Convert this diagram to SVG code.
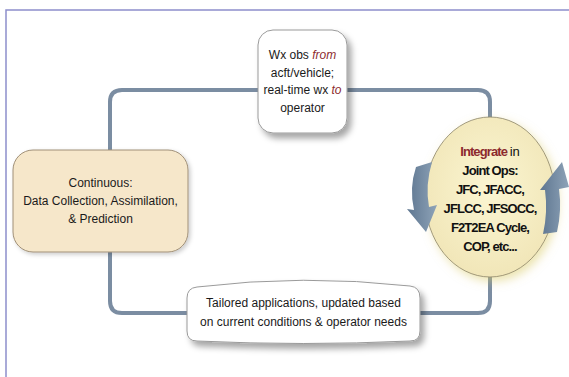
<svg xmlns="http://www.w3.org/2000/svg" width="569" height="377" viewBox="0 0 569 377">
<defs>
<style>
.t{font-family:"Liberation Sans",Arial,sans-serif;font-size:12px;fill:#1a1a1a;text-anchor:middle}
.b{font-weight:bold;font-size:13px;letter-spacing:-0.9px;fill:#111}
.red{fill:#8c2a2e}
.conn{fill:none;stroke:#7b8da2;stroke-width:4;stroke-linecap:butt}
.arr{fill:url(#ag)}
</style>
<filter id="sh" x="-20%" y="-20%" width="150%" height="160%">
<feDropShadow dx="4" dy="5" stdDeviation="3" flood-color="#000" flood-opacity="0.35"/>
</filter>
<filter id="sh2" x="-20%" y="-20%" width="140%" height="140%">
<feDropShadow dx="2" dy="2" stdDeviation="2" flood-color="#000" flood-opacity="0.2"/>
</filter>
<filter id="glow" x="-30%" y="-30%" width="160%" height="160%">
<feDropShadow dx="3" dy="4" stdDeviation="5" flood-color="#d8c860" flood-opacity="0.5"/>
</filter>
<radialGradient id="eg" cx="50%" cy="45%" r="55%">
<stop offset="0" stop-color="#fbf6d2"/>
<stop offset="1" stop-color="#f1e6b8"/>
</radialGradient>
<linearGradient id="ag" x1="0" y1="0" x2="1" y2="0">
<stop offset="0" stop-color="#5e7690"/>
<stop offset="1" stop-color="#8ea3b8"/>
</linearGradient>
</defs>
<rect width="569" height="377" fill="#fff"/>
<g id="frame" fill="none" stroke="#8d8fcc" stroke-width="1.5">
<path d="M6,377 V10 H569"/>
</g>
<g id="connectors">
<path class="conn" d="M110,150 V102 Q110,90 122,90 H258"/>
<path class="conn" d="M347,90 H478 Q490,90 490,102 V118"/>
<path class="conn" d="M490,276 V301 Q490,313 478,313 H418"/>
<path class="conn" d="M187,313 H122 Q110,313 110,301 V252"/>
</g>
<g id="node-top">
<rect x="258" y="30" width="89" height="103" rx="15" fill="#fff" stroke="#9a9a9a" stroke-width="1" filter="url(#sh)"/>
<text class="t" x="302.5" y="59">Wx obs <tspan class="red" font-style="italic">from</tspan></text>
<text class="t" x="302.5" y="76.5">acft/vehicle;</text>
<text class="t" x="302.5" y="94">real-time wx <tspan class="red" font-style="italic">to</tspan></text>
<text class="t" x="302.5" y="111.5">operator</text>
</g>
<g id="node-left">
<rect x="13" y="150" width="175" height="102" rx="20" fill="#f6e7ca" stroke="#a09078" stroke-width="1" filter="url(#sh2)"/>
<text class="t" x="100.5" y="187">Continuous:</text>
<text class="t" x="100.5" y="205">Data Collection, Assimilation,</text>
<text class="t" x="100.5" y="223">&amp; Prediction</text>
</g>
<g id="node-right">
<ellipse cx="490" cy="197" rx="65" ry="80" fill="url(#eg)" stroke="#8c8468" stroke-width="0.8" filter="url(#glow)"/>
<path class="arr" d="M416,167 L432,162 Q425,185 429,207 L437,205 L426,232 L407,209 L414,210 Q409,188 416,167 Z"/>
<path class="arr" d="M543,234 L557,232 Q562,210 559,189 L569,187 L562,162 L540,190 L545,190 Q548,212 543,234 Z"/>
<text class="t b" x="490" y="156"><tspan class="red">Integrate</tspan> <tspan font-weight="normal" letter-spacing="0">in</tspan></text>
<text class="t b" x="490" y="175">Joint Ops:</text>
<text class="t b" x="490" y="194">JFC, JFACC,</text>
<text class="t b" x="490" y="213">JFLCC, JFSOCC,</text>
<text class="t b" x="490" y="232">F2T2EA Cycle,</text>
<text class="t b" x="490" y="250.5">COP, etc...</text>
</g>
<g id="node-bottom">
<path d="M197,287 Q303,274 410,286 Q420,287 420,298 L420,331 Q420,341 410,341 Q303,346 197,341 Q187,341 187,331 L187,298 Q187,288 197,287 Z" fill="#fff" stroke="#9a9a9a" stroke-width="1" filter="url(#sh)"/>
<text class="t" x="303.5" y="307">Tailored applications, updated based</text>
<text class="t" x="303.5" y="326">on current conditions &amp; operator needs</text>
</g>
</svg>
